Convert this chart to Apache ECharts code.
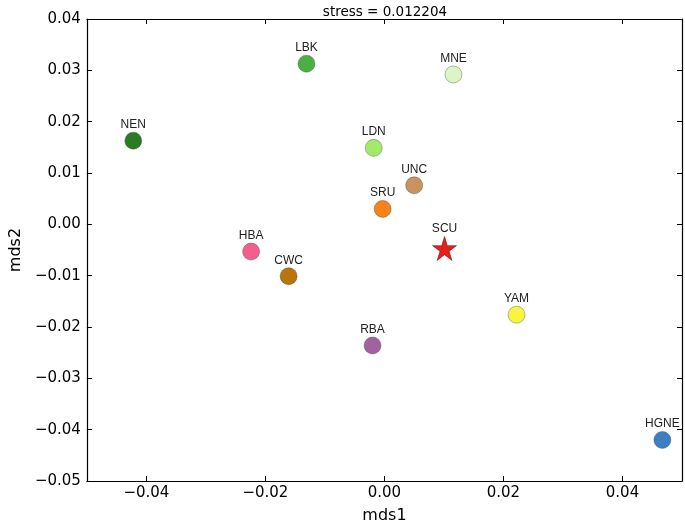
<!DOCTYPE html>
<html><head><meta charset="utf-8">
<script src="https://cdn.jsdelivr.net/npm/echarts@6/dist/echarts.min.js"></script>
<style>html,body{margin:0;padding:0;background:#fff}#c{width:685px;height:529px}</style>
</head><body><div id="c"></div>
<script>
// ---- data ----
const names = ['NEN','LBK','MNE','LDN','UNC','SRU','SCU','HBA','CWC','YAM','RBA','HGNE'];
const mds1  = [-0.0422,-0.0131,0.0116,-0.0018,0.0050,-0.0003,0.0101,-0.0224,-0.0161,0.0222,-0.0020,0.0467];
const mds2  = [0.0163,0.0313,0.0292,0.0149,0.0076,0.0030,-0.0047,-0.0053,-0.0101,-0.0176,-0.0236,-0.0420];
const starName = 'SCU';
const titleText = 'stress = 0.012204';
const xTicks = [-0.04,-0.02,0.00,0.02,0.04];
const yTicks = [-0.05,-0.04,-0.03,-0.02,-0.01,0.00,0.01,0.02,0.03,0.04];

// ---- styles ----
const colors = {NEN:'#2a7c22',LBK:'#4caf44',MNE:'#daf5c6',LDN:'#a2ea6c',UNC:'#c8935f',SRU:'#f8821a',
  SCU:'#e3211c',HBA:'#f35e8d',CWC:'#b9740c',YAM:'#f7f540',RBA:'#a2629f',HGNE:'#3a80c2'};
function starPath(){
  let d='';
  for(let i=0;i<10;i++){
    const r = i%2===0 ? 1 : 0.382;
    const a = -Math.PI/2 + i*Math.PI/5;
    d += (i===0?'M':'L') + (r*Math.cos(a)).toFixed(4) + ' ' + (r*Math.sin(a)).toFixed(4) + ' ';
  }
  return 'path://' + d + 'Z';
}
const fmt = v => (Math.abs(v)<1e-9?0:v).toFixed(2).replace('-','\u2212');
const font = 'DejaVu Sans';

const circleData = [], starData = [];
names.forEach((n,i)=>{
  const item = {name:n, value:[mds1[i],mds2[i]], itemStyle:{color:colors[n]}};
  (n===starName?starData:circleData).push(item);
});

const chart = echarts.init(document.getElementById('c'));
const axLine = {show:true, onZero:false, lineStyle:{color:'#000', width:1.2}};
const tickX = {show:true, inside:true, length:5, customValues:xTicks, lineStyle:{color:'#000', width:1}};
const tickY = {show:true, inside:true, length:5, customValues:yTicks, lineStyle:{color:'#000', width:1}};
chart.setOption({
  animation:false,
  title:{text:titleText, left:380, top:0, textAlign:'center',
    textStyle:{fontFamily:font, fontSize:13.5, fontWeight:'normal', color:'#000'}},
  grid:{left:78, right:3, top:19, bottom:43, containLabel:false},
  xAxis:[
    {type:'value', min:-0.05, max:0.05, interval:0.01, position:'bottom',
     name:'mds1', nameLocation:'middle', nameGap:27,
     nameTextStyle:{fontFamily:font, fontSize:16, color:'#000'},
     axisLine:axLine, axisTick:tickX, splitLine:{show:false},
     axisLabel:{fontFamily:font, fontSize:15, color:'#000', margin:5,
       customValues:xTicks, formatter:v=>fmt(v)}},
    {type:'value', min:-0.05, max:0.05, interval:0.01, position:'top',
     axisLine:axLine, axisTick:tickX, splitLine:{show:false}, axisLabel:{show:false}}
  ],
  yAxis:[
    {type:'value', min:-0.05, max:0.04, interval:0.01, position:'left',
     name:'mds2', nameLocation:'middle', nameGap:60, nameRotate:90,
     nameTextStyle:{fontFamily:font, fontSize:16, color:'#000'},
     axisLine:axLine, axisTick:tickY, splitLine:{show:false},
     axisLabel:{fontFamily:font, fontSize:15, color:'#000', margin:6,
       customValues:yTicks, formatter:v=>fmt(v)}},
    {type:'value', min:-0.05, max:0.04, interval:0.01, position:'right',
     axisLine:axLine, axisTick:tickY, splitLine:{show:false}, axisLabel:{show:false}}
  ],
  series:[
    {type:'scatter', xAxisIndex:0, yAxisIndex:0, symbol:'circle', symbolSize:17,
     data:circleData,
     itemStyle:{borderColor:'rgba(60,60,60,0.45)', borderWidth:0.8, opacity:1},
     label:{show:true, position:'top', distance:1, formatter:'{b}',
       fontFamily:'Liberation Sans', fontSize:12, color:'#222'}},
    {type:'scatter', xAxisIndex:0, yAxisIndex:0, symbol:starPath(), symbolSize:24,
     data:starData,
     itemStyle:{borderColor:'rgba(90,0,0,0.6)', borderWidth:0.8, opacity:1},
     label:{show:true, position:'top', distance:1, formatter:'{b}',
       fontFamily:'Liberation Sans', fontSize:12, color:'#222'}}
  ]
});
</script></body></html>
